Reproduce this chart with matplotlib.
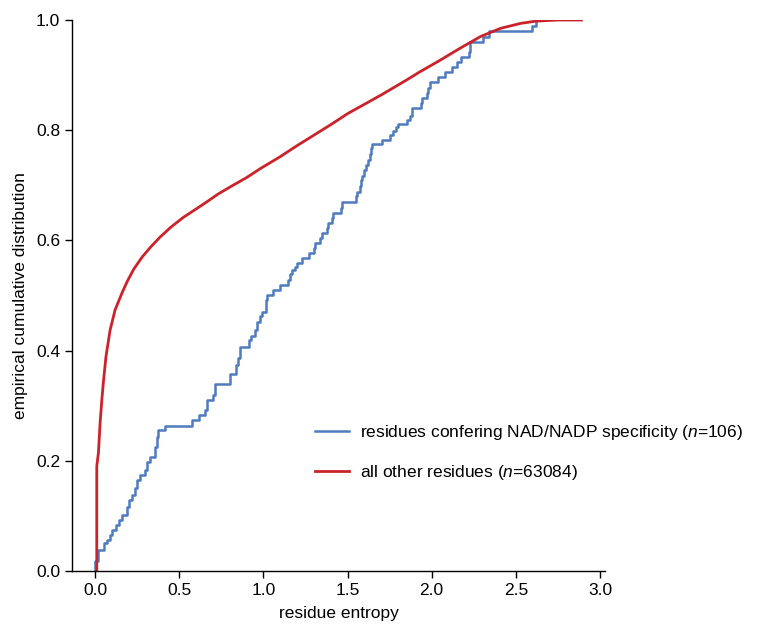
import matplotlib
matplotlib.use("Agg")
import matplotlib.pyplot as plt
import numpy as np

plt.rcParams["font.family"] = ["Liberation Sans", "DejaVu Sans"]
plt.rcParams["mathtext.fontset"] = "custom"
plt.rcParams["mathtext.rm"] = "Liberation Sans"
plt.rcParams["mathtext.it"] = "Liberation Sans:italic"

# ECDF of residues conferring NAD/NADP specificity (step points)
blue_x = [0.000, 0.000, 0.018, 0.053, 0.071, 0.089, 0.101, 0.125, 0.143, 0.160, 0.190,
          0.202, 0.220, 0.238, 0.250, 0.267, 0.297, 0.309, 0.327, 0.357, 0.368, 0.374,
          0.416, 0.576, 0.618, 0.654, 0.665, 0.701, 0.713, 0.802, 0.838, 0.850, 0.862,
          0.915, 0.927, 0.951, 0.963, 0.980, 0.992, 1.016, 1.022, 1.058, 1.099, 1.147,
          1.159, 1.171, 1.188, 1.200, 1.230, 1.272, 1.301, 1.307, 1.337, 1.349, 1.378,
          1.384, 1.408, 1.414, 1.462, 1.468, 1.551, 1.557, 1.575, 1.580, 1.586, 1.598,
          1.610, 1.622, 1.634, 1.640, 1.646, 1.705, 1.753, 1.771, 1.788, 1.800, 1.854,
          1.872, 1.884, 1.937, 1.943, 1.973, 1.979, 1.990, 2.038, 2.080, 2.121, 2.151,
          2.175, 2.222, 2.225, 2.228, 2.305, 2.341, 2.597, 2.620]
blue_y = [0.000, 0.018, 0.038, 0.051, 0.056, 0.065, 0.074, 0.083, 0.093, 0.102, 0.116,
          0.129, 0.138, 0.151, 0.165, 0.174, 0.183, 0.198, 0.207, 0.225, 0.243, 0.256,
          0.263, 0.274, 0.283, 0.292, 0.310, 0.319, 0.339, 0.358, 0.374, 0.387, 0.407,
          0.419, 0.426, 0.437, 0.452, 0.463, 0.470, 0.492, 0.501, 0.510, 0.519, 0.528,
          0.539, 0.546, 0.552, 0.559, 0.568, 0.577, 0.586, 0.595, 0.604, 0.613, 0.623,
          0.632, 0.641, 0.650, 0.659, 0.670, 0.681, 0.688, 0.699, 0.710, 0.717, 0.728,
          0.737, 0.746, 0.757, 0.768, 0.775, 0.782, 0.791, 0.799, 0.806, 0.811, 0.819,
          0.826, 0.840, 0.849, 0.858, 0.868, 0.877, 0.887, 0.897, 0.906, 0.915, 0.924,
          0.933, 0.942, 0.951, 0.961, 0.969, 0.980, 0.989, 1.000]

# ECDF of all other residues (smooth curve)
red_x = [0.010, 0.010, 0.014, 0.020, 0.030, 0.040, 0.050, 0.065, 0.089, 0.119, 0.159,
         0.190, 0.230, 0.280, 0.330, 0.386, 0.450, 0.525, 0.600, 0.664, 0.730, 0.802,
         0.900, 0.980, 1.100, 1.200, 1.300, 1.400, 1.500, 1.600, 1.700, 1.850, 1.930,
         2.050, 2.170, 2.290, 2.410, 2.530, 2.620, 2.750, 2.890]
red_y = [0.000, 0.190, 0.200, 0.215, 0.270, 0.310, 0.345, 0.390, 0.437, 0.474, 0.504,
         0.525, 0.548, 0.570, 0.588, 0.606, 0.624, 0.642, 0.657, 0.670, 0.684, 0.697,
         0.714, 0.730, 0.752, 0.772, 0.791, 0.810, 0.830, 0.847, 0.864, 0.891, 0.906,
         0.927, 0.949, 0.970, 0.985, 0.994, 0.998, 1.000, 1.000]

label_blue = r"residues confering NAD/NADP specificity ($n$=106)"
label_red = r"all other residues ($n$=63084)"

fs = 12.5

fig = plt.figure(figsize=(7.59, 6.24), dpi=100)
ax = fig.add_axes([0.0949, 0.0849, 0.7022, 0.8830])

ax.step(blue_x, blue_y, where="post", color="#4f7bbf", lw=1.8, label=label_blue)
ax.plot(red_x, red_y, color="#cc2229", lw=2.0, label=label_red)

ax.set_xlim(-0.137, 3.03)
ax.set_ylim(0, 1.0)
ax.set_xticks(np.arange(0, 3.01, 0.5))
ax.set_yticks(np.arange(0, 1.01, 0.2))
ax.set_xticklabels([f"{v:.1f}" for v in np.arange(0, 3.01, 0.5)])
ax.set_yticklabels([f"{v:.1f}" for v in np.arange(0, 1.01, 0.2)])
ax.tick_params(direction="out", length=5, width=1.0, labelsize=fs)

for side in ["top", "right"]:
    ax.spines[side].set_visible(False)
for side in ["left", "bottom"]:
    ax.spines[side].set_linewidth(1.0)

ax.set_xlabel("residue entropy", fontsize=fs, labelpad=6)
ax.set_ylabel("empirical cumulative distribution", fontsize=fs, labelpad=6)

fig.legend(loc="center left", bbox_to_anchor=(0.394, 0.275), frameon=False,
           fontsize=fs, labelspacing=1.18, handlelength=2.0, handletextpad=0.6)

fig.savefig("out.png", dpi=100)
